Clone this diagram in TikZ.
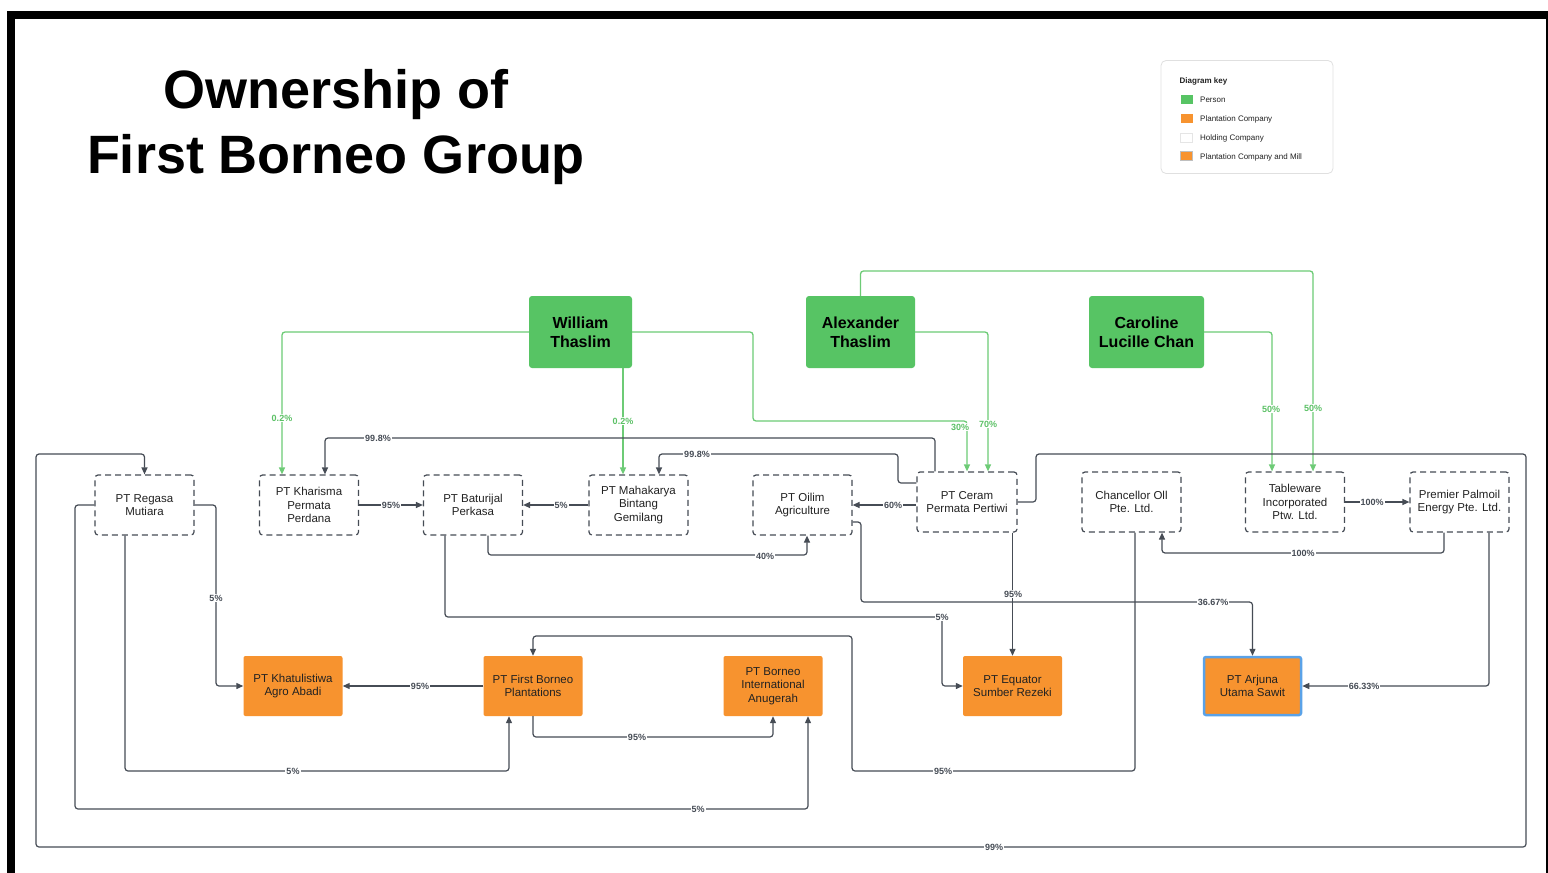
\documentclass[tikz,border=0pt]{standalone}
\usepackage{fontspec}
\setmainfont{Liberation Sans}
\usetikzlibrary{arrows.meta}
\definecolor{pgreen}{HTML}{57C464}
\definecolor{porange}{HTML}{F7932F}
\definecolor{dk}{HTML}{464C55}
\definecolor{glin}{HTML}{6DCB76}
\definecolor{gtxt}{HTML}{5CC166}
\definecolor{pblue}{HTML}{5AA2E8}
\definecolor{txt}{HTML}{222222}
\begin{document}
\begin{tikzpicture}[x=1pt,y=-1pt,
  holding/.style={draw=dk, line width=1.2pt, dash pattern=on 6pt off 4pt, rounded corners=3pt,
    fill=white, minimum width=99pt, minimum height=60pt, inner sep=0pt, align=center,
    font=\fontsize{11.5}{13.5}\selectfont, text=txt},
  person/.style={fill=pgreen, rounded corners=3pt, minimum height=72pt, inner sep=0pt,
    align=center, font=\fontsize{16}{19}\selectfont\bfseries, text=black},
  plant/.style={fill=porange, rounded corners=2pt, minimum width=99pt, minimum height=60pt,
    inner sep=0pt, align=center, font=\fontsize{11.5}{13.5}\selectfont, text=txt},
  dkline/.style={draw=dk, line width=1.2pt, rounded corners=3pt, -{Triangle[length=7pt,width=6pt]}},
  gline/.style={draw=glin, line width=1.3pt, rounded corners=3pt, -{Triangle[length=7pt,width=6pt]}},
  lbl/.style={fill=white, inner sep=1pt, font=\fontsize{9}{10}\selectfont\bfseries, text=dk},
  glbl/.style={lbl, text=gtxt},
  keysq/.style={minimum width=12pt, minimum height=9pt, inner sep=0pt},
  keytx/.style={anchor=west, inner sep=0pt, font=\fontsize{8}{9}\selectfont, text=txt}
]
\useasboundingbox (0,0) rectangle (1548,873);
% frame
\fill[black] (7,11) rectangle (1548,880);
\fill[white] (15,19) rectangle (1546,880);

% title
\node[anchor=base, inner sep=0pt, font=\fontsize{54}{60}\selectfont\bfseries] (t1) at (336,108) {Ownership of};
\node[anchor=base, inner sep=0pt, font=\fontsize{54}{60}\selectfont\bfseries] (t2) at (336,173) {First Borneo Group};

% legend
\node[draw=black!12, line width=0.8pt, rounded corners=5pt, minimum width=172pt, minimum height=113pt, inner sep=0pt] (key) at (1247,117) {};
\node[anchor=west, inner sep=0pt, font=\fontsize{8}{9}\selectfont\bfseries, text=txt] (keyt) at (1179.5,81) {Diagram key};
\node[keysq, fill=pgreen] (k1) at (1186.5,99.5) {};
\node[keytx] (k1t) at (1200,100) {Person};
\node[keysq, fill=porange] (k2) at (1186.5,118.5) {};
\node[keytx] (k2t) at (1200,119) {Plantation Company};
\node[keysq, draw=black!10, line width=0.5pt] (k3) at (1186.5,137.5) {};
\node[keytx] (k3t) at (1200,138) {Holding Company};
\node[keysq, fill=porange, draw=black!25, line width=0.5pt] (k4) at (1186.5,156) {};
\node[keytx] (k4t) at (1200,157) {Plantation Company and Mill};

% persons
\node[person, minimum width=103pt] (will) at (580.5,332) {William\\Thaslim};
\node[person, minimum width=109pt] (alex) at (860.5,332) {Alexander\\Thaslim};
\node[person, minimum width=115pt] (car) at (1146.5,332) {Caroline\\Lucille Chan};

% holding companies
\node[holding] (reg) at (144.5,505) {PT Regasa\\Mutiara};
\node[holding] (khar) at (309,505) {PT Kharisma\\Permata\\Perdana};
\node[holding] (bat) at (473,505) {PT Baturijal\\Perkasa};
\node[holding] (maha) at (638.5,505) {PT Mahakarya\\Bintang\\Gemilang};
\node[holding] (oil) at (802.5,505) {PT Oilim\\Agriculture};
\node[holding, minimum width=100pt] (ceram) at (967,502) {PT Ceram\\Permata Pertiwi};
\node[holding] (chan) at (1131.5,502) {Chancellor Oll\\Pte. Ltd.};
\node[holding] (table) at (1295,502) {Tableware\\Incorporated\\Ptw. Ltd.};
\node[holding] (prem) at (1459.5,502) {Premier Palmoil\\Energy Pte. Ltd.};

% plantation companies
\node[plant] (khat) at (293,686) {PT Khatulistiwa\\Agro Abadi};
\node[plant] (fbp) at (533,686) {PT First Borneo\\Plantations};
\node[plant] (bia) at (773,686) {PT Borneo\\International\\Anugerah};
\node[plant] (equ) at (1012.5,686) {PT Equator\\Sumber Rezeki};
\node[plant, draw=pblue, line width=2.5pt, minimum width=97pt, minimum height=58pt] (arj) at (1252.5,686) {PT Arjuna\\Utama Sawit};

% green connectors
\draw[gline] (will.west) -| ([xshift=-27pt]khar.north);
\draw[gline] ([xshift=42.5pt]will.south) -- ([xshift=-15.5pt]maha.north);
\draw[gline] (will.east) -| (753,421) -| (ceram.north);
\draw[gline] (alex.east) -| ([xshift=21pt]ceram.north);
\draw[gline] (alex.north) |- (1313,271) -- ([xshift=18pt]table.north);
\draw[gline] (car.east) -| ([xshift=-23pt]table.north);

% dark connectors
\draw[dkline] ([xshift=-32pt]ceram.north) |- (325,438) -- ([xshift=16pt]khar.north);
\draw[dkline] ([yshift=19pt]ceram.west) -| (898,454) -| ([xshift=20.5pt]maha.north);
\draw[dkline] (khar.east) -- (bat.west);
\draw[dkline] (maha.west) -- (bat.east);
\draw[dkline] ([xshift=15pt]bat.south) |- (807,555) -- ([xshift=4.5pt]oil.south);
\draw[dkline] ([yshift=-3pt]ceram.west) -- (oil.east);
\draw[dkline] ([xshift=45.5pt]ceram.south) -- (equ.north);
\draw[dkline] ([yshift=-17pt]oil.east) -| (861,602) -| (arj.north);
\draw[dkline] ([xshift=-28pt]bat.south) |- (942,617) |- (equ.west);
\draw[dkline] (ceram.east) -| (1036,454) -| (1526,847) -| (36,454) -| (reg.north);
\draw[dkline] (table.east) -- (prem.west);
\draw[dkline] ([xshift=-15.5pt]prem.south) |- (1162,553) -- ([xshift=30.5pt]chan.south);
\draw[dkline] ([xshift=29.5pt]prem.south) |- (arj.east);
\draw[dkline] ([xshift=3.5pt]chan.south) |- (852,771) |- (533,636) -- (fbp.north);
\draw[dkline] (reg.east) -| (216,600) |- (khat.west);
\draw[dkline] (fbp.west) -- (khat.east);
\draw[dkline] ([xshift=-19.5pt]reg.south) |- (509,771) -- ([xshift=-24pt]fbp.south);
\draw[dkline] (reg.west) -| (75,809) -| ([xshift=35pt]bia.south);
\draw[dkline] (fbp.south) |- (700,737) -| (bia.south);

% labels
\node[glbl] (l1) at (282,418) {0.2\%};
\node[glbl] (l2) at (623,421) {0.2\%};
\node[glbl] (l3) at (960,427) {30\%};
\node[glbl] (l4) at (988,424) {70\%};
\node[glbl] (l5) at (1271,409) {50\%};
\node[glbl] (l6) at (1313,408) {50\%};
\node[lbl] (m1) at (378,438) {99.8\%};
\node[lbl] (m2) at (697,454) {99.8\%};
\node[lbl] (m3) at (391,505) {95\%};
\node[lbl] (m4) at (561,505) {5\%};
\node[lbl] (m5) at (765,556) {40\%};
\node[lbl] (m6) at (893,505) {60\%};
\node[lbl] (m7) at (1013,594) {95\%};
\node[lbl] (m8) at (1213,602) {36.67\%};
\node[lbl] (m9) at (942,617) {5\%};
\node[lbl] (m10) at (994,847) {99\%};
\node[lbl] (m11) at (1372,502) {100\%};
\node[lbl] (m12) at (1303,553) {100\%};
\node[lbl] (m13) at (1364,686) {66.33\%};
\node[lbl] (m14) at (943,771) {95\%};
\node[lbl] (m15) at (216,598) {5\%};
\node[lbl] (m16) at (420,686) {95\%};
\node[lbl] (m17) at (293,771) {5\%};
\node[lbl] (m18) at (698,809) {5\%};
\node[lbl] (m19) at (637,737) {95\%};
\end{tikzpicture}
\end{document}
